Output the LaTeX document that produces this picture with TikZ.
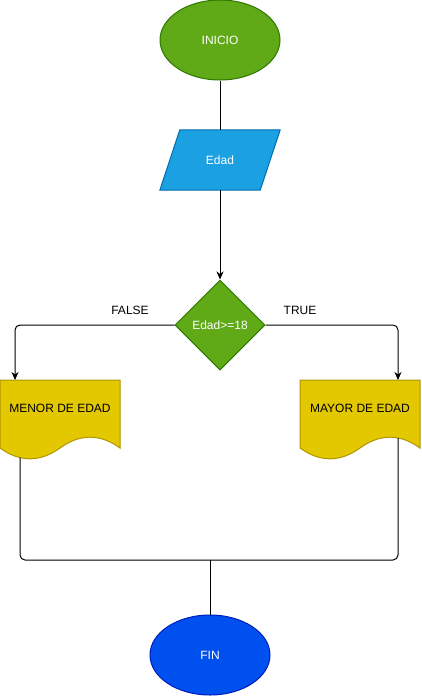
\documentclass[tikz,border=0pt]{standalone}
\usepackage{fontspec}
\setmainfont{Liberation Sans}
\usetikzlibrary{shapes.geometric,arrows.meta,calc}
\definecolor{gfill}{HTML}{60A917}
\definecolor{gline}{HTML}{2D7600}
\definecolor{bfill}{HTML}{1BA1E2}
\definecolor{bline}{HTML}{006EAF}
\definecolor{yfill}{HTML}{E3C800}
\definecolor{yline}{HTML}{B09500}
\definecolor{ffill}{HTML}{0050EF}
\definecolor{fline}{HTML}{001DBC}
\tikzset{
  txt/.style={font=\fontsize{12}{14}\selectfont, inner sep=0pt},
  term/.style={txt, ellipse, minimum width=120pt, minimum height=80pt, line width=1pt, text=white},
  decision/.style={txt, diamond, minimum width=90pt, minimum height=90pt, aspect=1, fill=gfill, draw=gline, line width=1pt, text=white},
  docshape/.style={fill=yfill, draw=yline, line width=1pt},
  ioshape/.style={fill=bfill, draw=bline, line width=1pt},
  conn/.style={line width=1pt, black},
  arr/.style={conn, -{Stealth[length=8pt,width=7pt,inset=2.5pt]}},
}
\begin{document}
\begin{tikzpicture}[x=1pt,y=-1pt]
\useasboundingbox (0,0) rectangle (421,696);
% INICIO
\node[term, fill=gfill, draw=gline] (inicio) at (220,40) {INICIO};
% Edad parallelogram
\node[txt, minimum width=100pt, minimum height=60pt] (edad) at (220,160) {};
\path[ioshape] ($(edad.north west)+(10,0)$) -- ($(edad.north east)+(10,0)$) -- ($(edad.south east)+(-10,0)$) -- ($(edad.south west)+(-10,0)$) -- cycle;
\node[txt, text=white] (edadtxt) at (edad.center) {Edad};
% decision
\node[decision] (dec) at (220,325) {Edad>=18};
% documents
\path[docshape] (0,380) -- (120,380) -- (120,448) .. controls (100,433.6) and (80,433.6) .. (60,448) .. controls (40,462.4) and (20,462.4) .. (0,448) -- cycle;
\node[txt] (ldoc) at (60,408) {MENOR DE EDAD};
\path[docshape] (300,380) -- (420,380) -- (420,448) .. controls (400,433.6) and (380,433.6) .. (360,448) .. controls (340,462.4) and (320,462.4) .. (300,448) -- cycle;
\node[txt] (rdoc) at (360,408) {MAYOR DE EDAD};
% FIN
\node[term, fill=ffill, draw=fline] (fin) at (210,655) {FIN};
% coordinates
\coordinate (lin) at (15,380);
\coordinate (rin) at (398,380);
\coordinate (lout) at (20,457.6);
\coordinate (rout) at (398,438);
\coordinate (join) at (210,560);
% connectors
\draw[conn] (inicio.south) -- (edad.north);
\draw[arr] (edad.south) -- (dec.north);
\draw[arr, rounded corners=5pt] (dec.west) -| (lin);
\draw[arr, rounded corners=5pt] (dec.east) -| (rin);
\draw[conn, rounded corners=5pt] (lout) |- (join) -| (rout);
\draw[conn] (join) -- (fin.north);
% labels
\node[txt] (lfalse) at (130,310) {FALSE};
\node[txt] (ltrue) at (300,310) {TRUE};
\end{tikzpicture}
\end{document}
